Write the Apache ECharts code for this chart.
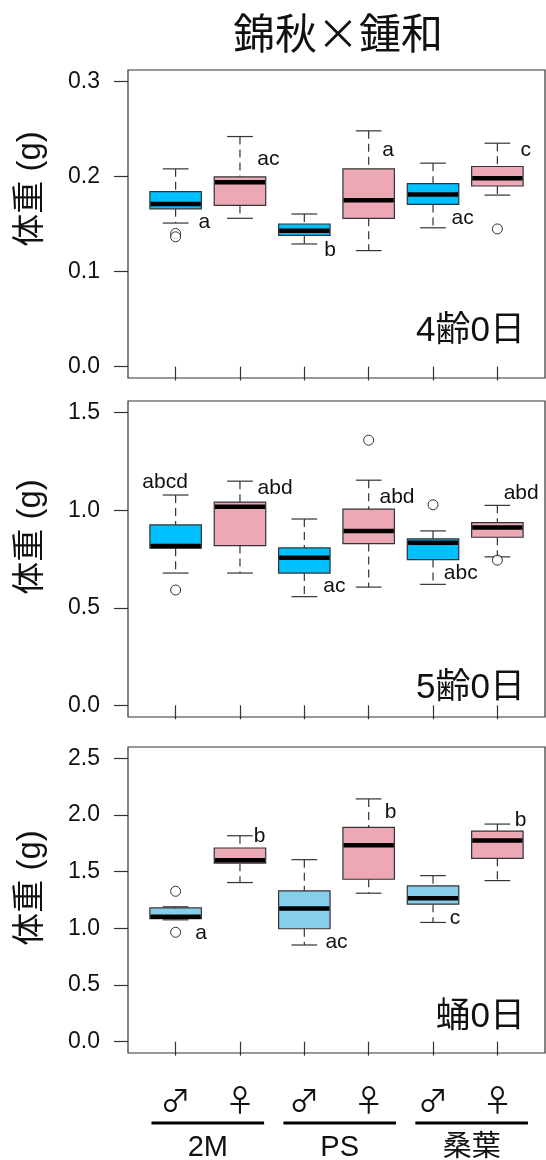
<!DOCTYPE html>
<html>
<head>
<meta charset="utf-8">
<script src="https://cdn.jsdelivr.net/npm/echarts@6/dist/echarts.min.js"></script>
<style>
html,body{margin:0;padding:0;background:#fff;}
#chart{width:546px;height:1160px;}
</style>
</head>
<body>
<div id="chart"></div>
<script>
// ---------------- data ----------------
const categories = ['♂', '♀', '♂', '♀', '♂', '♀'];
const groups = ['2M', 'PS', '桑葉'];
const groupCenters = [1.5, 3.55, 5.6];
const panelNames = ['4齢0日', '5齢0日', '蛹0日'];
const yTicks1 = [0, 0.1, 0.2, 0.3];
const yTicks2 = [0, 0.5, 1.0, 1.5];
const yTicks3 = [0, 0.5, 1.0, 1.5, 2.0, 2.5];

// [lower whisker, Q1, median, Q3, upper whisker]
const stats1 = [
  [0.151, 0.166, 0.171, 0.184, 0.208],
  [0.156, 0.1695, 0.194, 0.1995, 0.242],
  [0.129, 0.138, 0.143, 0.150, 0.1605],
  [0.122, 0.156, 0.175, 0.208, 0.248],
  [0.146, 0.1706, 0.181, 0.1924, 0.214],
  [0.1804, 0.190, 0.198, 0.2105, 0.235]
];
const outliers1 = [[1, 0.140], [1, 0.1365], [6, 0.1448]];
const letters1 = ['a', 'ac', 'b', 'a', 'ac', 'c'];
const letterX1 = [1.445, 2.44, 3.40, 4.30, 5.46, 6.44];
const letterY1 = [0.1517, 0.2177, 0.1228, 0.228, 0.156, 0.228];

const stats2 = [
  [0.678, 0.805, 0.817, 0.9245, 1.078],
  [0.678, 0.819, 1.018, 1.042, 1.149],
  [0.557, 0.678, 0.756, 0.807, 0.955],
  [0.606, 0.829, 0.894, 1.006, 1.154],
  [0.620, 0.747, 0.833, 0.853, 0.894],
  [0.761, 0.8615, 0.911, 0.936, 1.025]
];
const outliers2 = [[1, 0.591], [4, 1.359], [5, 1.028], [6, 0.744]];
const letters2 = ['abcd', 'abd', 'ac', 'abd', 'abc', 'abd'];
const letterX2 = [0.837, 2.546, 3.467, 4.44, 5.43, 6.37];
const letterY2 = [1.144, 1.113, 0.608, 1.0675, 0.679, 1.088];

const stats3 = [
  [1.075, 1.085, 1.102, 1.180, 1.190],
  [1.404, 1.575, 1.600, 1.709, 1.817],
  [0.853, 0.9965, 1.175, 1.331, 1.606],
  [1.310, 1.433, 1.732, 1.890, 2.142],
  [1.052, 1.213, 1.266, 1.375, 1.465],
  [1.421, 1.618, 1.776, 1.858, 1.920]
];
const outliers3 = [[1, 1.327], [1, 0.965]];
const letters3 = ['a', 'b', 'ac', 'b', 'c', 'b'];
const letterX3 = [1.395, 2.306, 3.50, 4.34, 5.34, 6.36];
const letterY3 = [0.955, 1.811, 0.879, 2.022, 1.087, 1.952];

// ---------------- styles ----------------
const LATIN = "'Liberation Sans', Arial, 'Noto Sans CJK JP', sans-serif";
const CJK = "'Liberation Sans', 'Noto Sans CJK JP', sans-serif";
const TITLE_FONT = "'Noto Sans CJK JP', sans-serif";
const SYMBOL_FONT = "'Noto Sans CJK JP', 'DejaVu Sans', sans-serif";
const EDGE = '#333333';
const TEXT = '#111111';
const PINK = '#ECA8B5';
const BLUE_DEEP = '#00BFFF';
const BLUE_SKY = '#87CEEB';

const panels = [
  {stats: stats1, out: outliers1, letters: letters1, lx: letterX1, ly: letterY1, ticks: yTicks1, max: 0.3, male: BLUE_DEEP, grid: {top: 70, height: 308}, yTitle: 189, nameY: 331},
  {stats: stats2, out: outliers2, letters: letters2, lx: letterX2, ly: letterY2, ticks: yTicks2, max: 1.5, male: BLUE_DEEP, grid: {top: 401, height: 316}, yTitle: 537, nameY: 688},
  {stats: stats3, out: outliers3, letters: letters3, lx: letterX3, ly: letterY3, ticks: yTicks3, max: 2.5, male: BLUE_SKY, grid: {top: 747, height: 306}, yTitle: 888, nameY: 1017}
];

const grids = [], xAxes = [], yAxes = [], series = [], graphics = [];

panels.forEach((p, gi) => {
  grids.push({left: 128, right: 1, top: p.grid.top, height: p.grid.height, show: true,
    borderColor: EDGE, borderWidth: 1.2, backgroundColor: 'transparent'});
  xAxes.push({type: 'value', gridIndex: gi, min: 0.26, max: 6.74,
    axisLine: {show: false}, splitLine: {show: false}, axisLabel: {show: false},
    axisTick: {show: true, length: 14, customValues: [1, 2, 3, 4, 5, 6], lineStyle: {color: EDGE, width: 1.2}}});
  const ext = p.max * 0.04;
  yAxes.push({type: 'value', gridIndex: gi, min: -ext, max: p.max + ext,
    axisLine: {show: false}, splitLine: {show: false},
    axisTick: {show: true, length: 14, customValues: p.ticks, lineStyle: {color: EDGE, width: 1.2}},
    axisLabel: {show: true, customValues: p.ticks, margin: 28, formatter: v => (+v).toFixed(1),
      fontSize: 23, fontFamily: LATIN, color: TEXT}});

  // boxes
  series.push({
    type: 'custom', xAxisIndex: gi, yAxisIndex: gi, clip: false,
    data: p.stats.map((s, i) => [i + 1].concat(s)),
    encode: {x: 0, y: [1, 2, 3, 4, 5]},
    renderItem: (params, api) => {
      const xv = api.value(0);
      const wl = api.value(1), q1 = api.value(2), md = api.value(3), q3 = api.value(4), wh = api.value(5);
      const boxW = api.size([0.8, 0])[0];
      const capW = boxW / 2;
      const cx = api.coord([xv, md])[0];
      const Y = v => api.coord([xv, v])[1];
      const fill = categories[params.dataIndex] === '♂' ? p.male : PINK;
      const dashed = {stroke: EDGE, lineWidth: 1.2, lineDash: [8, 5]};
      const solid = {stroke: EDGE, lineWidth: 1.2};
      return {type: 'group', children: [
        {type: 'line', shape: {x1: cx, y1: Y(wh), x2: cx, y2: Y(q3)}, style: dashed},
        {type: 'line', shape: {x1: cx, y1: Y(q1), x2: cx, y2: Y(wl)}, style: dashed},
        {type: 'line', shape: {x1: cx - capW / 2, y1: Y(wh), x2: cx + capW / 2, y2: Y(wh)}, style: solid},
        {type: 'line', shape: {x1: cx - capW / 2, y1: Y(wl), x2: cx + capW / 2, y2: Y(wl)}, style: solid},
        {type: 'rect', shape: {x: cx - boxW / 2, y: Y(q3), width: boxW, height: Y(q1) - Y(q3)},
          style: {fill: fill, stroke: EDGE, lineWidth: 1.2}},
        {type: 'line', shape: {x1: cx - boxW / 2 + 0.6, y1: Y(md), x2: cx + boxW / 2 - 0.6, y2: Y(md)},
          style: {stroke: '#000', lineWidth: 4.5}}
      ]};
    }
  });

  // outliers
  series.push({
    type: 'scatter', xAxisIndex: gi, yAxisIndex: gi, data: p.out,
    symbol: 'circle', symbolSize: 10,
    itemStyle: {color: '#fff', borderColor: '#000', borderWidth: 1}
  });

  // significance letters
  series.push({
    type: 'custom', xAxisIndex: gi, yAxisIndex: gi, clip: false,
    data: p.lx.map((x, i) => [x, p.ly[i]]),
    renderItem: (params, api) => {
      const pt = api.coord([api.value(0), api.value(1)]);
      return {type: 'text', x: pt[0], y: pt[1],
        style: {text: p.letters[params.dataIndex], fill: TEXT, fontSize: 21, fontFamily: LATIN,
          align: 'center', verticalAlign: 'middle'}};
    }
  });

  // y axis title and panel name
  graphics.push({type: 'text', x: 31, y: p.yTitle, rotation: Math.PI / 2,
    style: {text: '体重 (g)', fill: TEXT, fontSize: 33, fontFamily: CJK, align: 'center', verticalAlign: 'middle'}});
  graphics.push({type: 'text', x: 525, y: p.nameY,
    style: {text: panelNames[gi], fill: TEXT, fontSize: 35, fontFamily: CJK, align: 'right', verticalAlign: 'middle'}});
});

// bottom annotation grid (sex symbols, group bars and names)
grids.push({left: 128, right: 1, top: 1075, height: 85, show: false});
xAxes.push({type: 'value', gridIndex: 3, min: 0.26, max: 6.74, show: false});
yAxes.push({type: 'value', gridIndex: 3, min: 0, max: 85, inverse: true, show: false});
const ROW_SEX = 25, ROW_BAR = 48, ROW_GROUP = 73;
series.push({
  type: 'custom', xAxisIndex: 3, yAxisIndex: 3, clip: false,
  data: categories.map((c, i) => [i + 1, ROW_SEX]),
  renderItem: (params, api) => {
    const pt = api.coord([api.value(0), api.value(1)]);
    return {type: 'text', x: pt[0], y: pt[1],
      style: {text: categories[params.dataIndex], fill: TEXT, fontSize: 30, fontFamily: SYMBOL_FONT,
        align: 'center', verticalAlign: 'middle'}};
  }
});
series.push({
  type: 'custom', xAxisIndex: 3, yAxisIndex: 3, clip: false,
  data: groupCenters.map(c => [c, ROW_BAR]),
  renderItem: (params, api) => {
    const a = api.coord([api.value(0) - 0.875, api.value(1)]);
    const b = api.coord([api.value(0) + 0.875, api.value(1)]);
    return {type: 'line', shape: {x1: a[0], y1: a[1], x2: b[0], y2: b[1]}, style: {stroke: '#000', lineWidth: 3}};
  }
});
series.push({
  type: 'custom', xAxisIndex: 3, yAxisIndex: 3, clip: false,
  data: groupCenters.map(c => [c, ROW_GROUP]),
  renderItem: (params, api) => {
    const pt = api.coord([api.value(0), api.value(1)]);
    return {type: 'text', x: pt[0], y: pt[1],
      style: {text: groups[params.dataIndex], fill: TEXT, fontSize: 29, fontFamily: CJK,
        align: 'center', verticalAlign: 'middle'}};
  }
});

const chart = echarts.init(document.getElementById('chart'), null, {renderer: 'canvas'});
chart.setOption({
  animation: false,
  backgroundColor: '#fff',
  title: {text: '錦秋×鍾和', left: 333, top: 7, textAlign: 'center',
    textStyle: {fontSize: 42, fontWeight: 'normal', fontFamily: TITLE_FONT, color: TEXT}},
  grid: grids,
  xAxis: xAxes,
  yAxis: yAxes,
  series: series,
  graphic: graphics
});
</script>
</body>
</html>
